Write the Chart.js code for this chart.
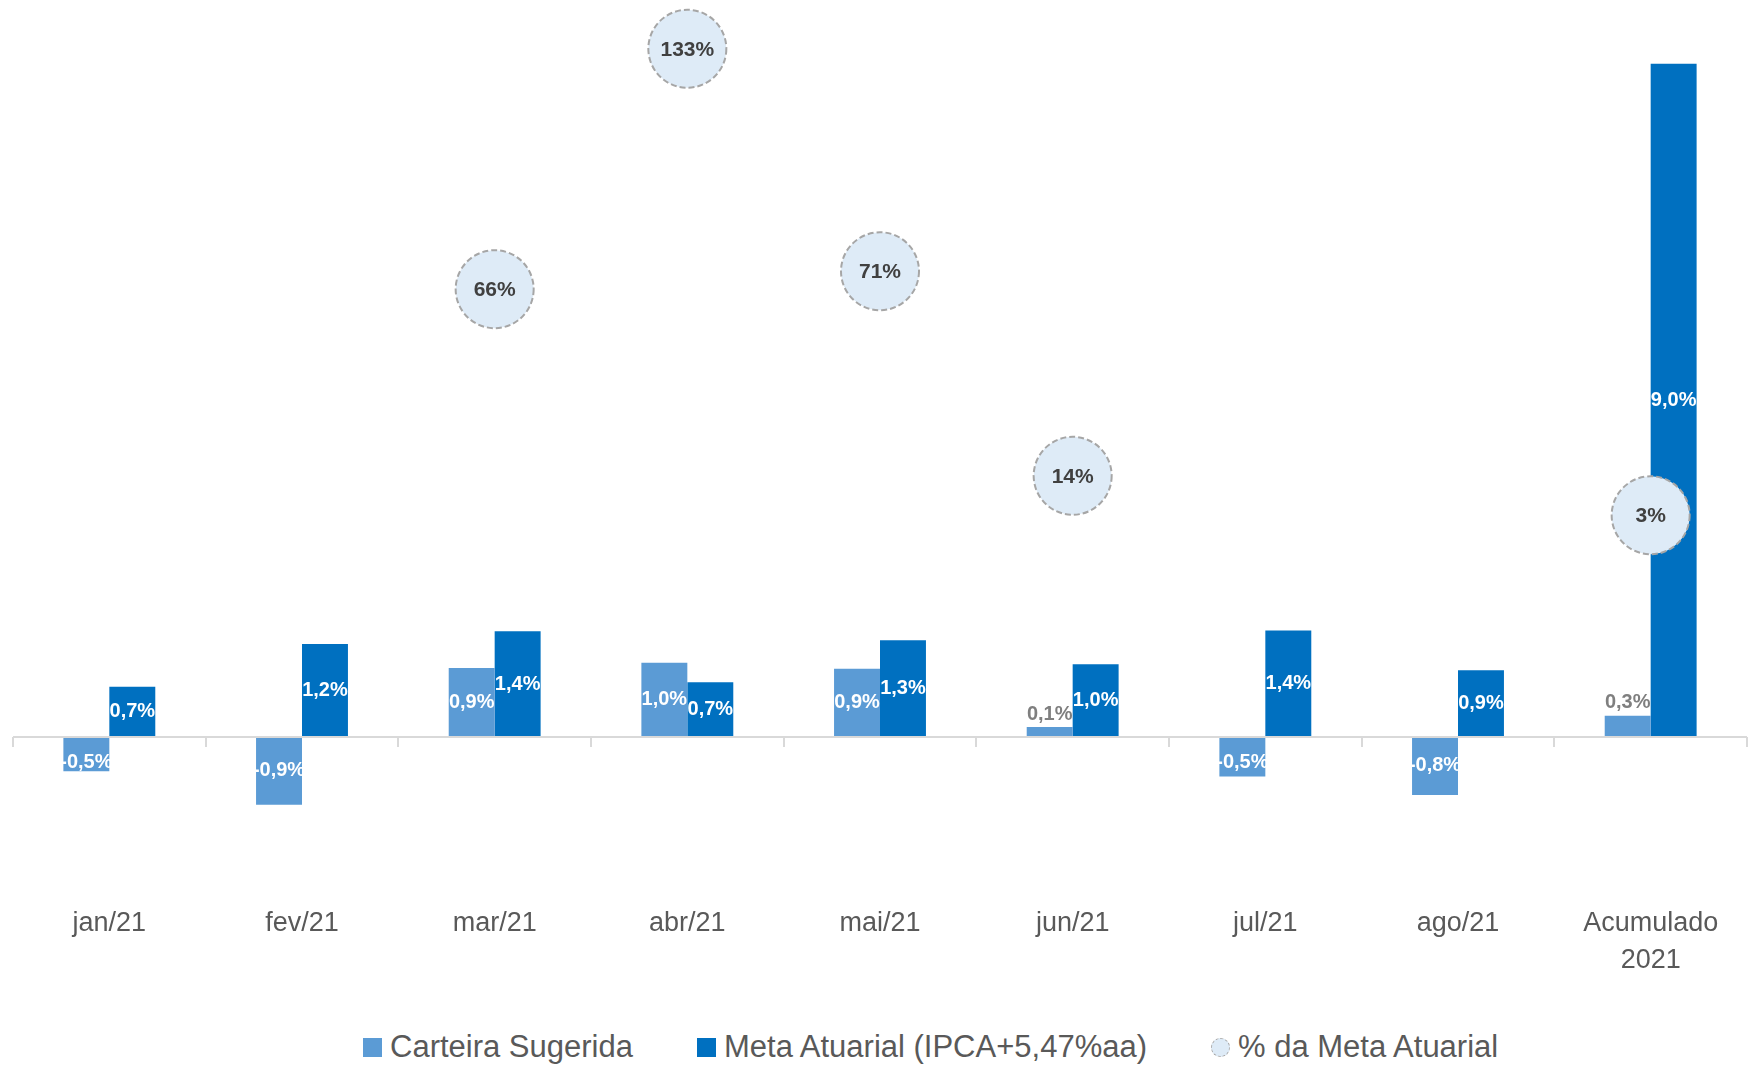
<!DOCTYPE html>
<html lang="pt-BR">
<head>
<meta charset="utf-8">
<title>Carteira Sugerida x Meta Atuarial</title>
<script src="https://cdn.jsdelivr.net/npm/chart.js@4.4.1/dist/chart.umd.min.js"></script>
<style>
  body { margin: 0; background: #fff; font-family: 'Liberation Sans', Arial, sans-serif; }
  #wrap { position: relative; width: 1752px; height: 1065px; }
  #chartBox { position: absolute; left: 0; top: 0; width: 1752px; height: 1002px; }
  #legenda { position: absolute; left: 363px; top: 1029px; display: flex; align-items: center;
             font-size: 31px; line-height: 36px; color: #595959; }
  .item { display: flex; align-items: center; margin-right: 64px; }
  .marca { width: 19px; height: 19px; margin-right: 8px; box-sizing: border-box; }
</style>
</head>
<body>
<div id="wrap">
  <div id="chartBox"><canvas id="graficoMeta"></canvas></div>
  <div id="legenda">
    <div class="item"><span class="marca" style="background:#5B9BD5"></span>Carteira Sugerida</div>
    <div class="item"><span class="marca" style="background:#0070C0"></span>Meta Atuarial (IPCA+5,47%aa)</div>
    <div class="item"><span class="marca" style="background:#DEEBF7;border:1.5px dashed #A6A6A6;border-radius:50%"></span>% da Meta Atuarial</div>
  </div>
</div>

<script>
// dados (% ao mês)
const categorias = ['jan/21', 'fev/21', 'mar/21', 'abr/21', 'mai/21', 'jun/21', 'jul/21', 'ago/21', ['Acumulado', '2021']];
const carteiraSugerida = [-0.46, -0.91, 0.92, 0.99, 0.91, 0.13, -0.53, -0.78, 0.28];
const metaAtuarial = [0.67, 1.24, 1.41, 0.73, 1.29, 0.97, 1.42, 0.89, 9.0];
const pctDaMeta = [null, null, 66, 133, 71, 14, null, null, 3];

Chart.defaults.font.family = "'Liberation Sans', Arial, sans-serif";

function formata(v) {
    return v.toFixed(1).replace('.', ',') + '%';
}

// linha do zero com as marcas entre as categorias
const eixoZero = {
    id: 'eixoZero',
    afterDatasetsDraw(chart) {
        const ctx = chart.ctx;
        const x = chart.scales.x;
        const y0 = Math.round(chart.scales.y.getPixelForValue(0));
        const n = chart.data.labels.length;
        const passo = (x.right - x.left) / n;
        ctx.save();
        ctx.strokeStyle = '#D9D9D9';
        ctx.lineWidth = 2;
        ctx.beginPath();
        ctx.moveTo(x.left, y0);
        ctx.lineTo(x.right, y0);
        for (let i = 0; i <= n; i++) {
            const xi = Math.round(x.left + i * passo);
            ctx.moveTo(xi, y0);
            ctx.lineTo(xi, y0 + 10);
        }
        ctx.stroke();
        ctx.restore();
    }
};

// bordas tracejadas nas bolhas
const bolhaTracejada = {
    id: 'bolhaTracejada',
    beforeDatasetDraw(chart, args) {
        if (args.index === 2) {
            chart.ctx.save();
            chart.ctx.setLineDash([6, 3]);
        }
    },
    afterDatasetDraw(chart, args) {
        if (args.index === 2) chart.ctx.restore();
    }
};

// rótulos das barras e das bolhas
const rotulos = {
    id: 'rotulos',
    afterDatasetsDraw(chart) {
        const ctx = chart.ctx;
        const zeroY = chart.scales.y.getPixelForValue(0);
        ctx.save();
        ctx.textAlign = 'center';
        ctx.textBaseline = 'middle';
        ctx.font = "bold 20px 'Liberation Sans', Arial, sans-serif";
        [0, 1].forEach(i => {
            const valores = chart.data.datasets[i].data;
            chart.getDatasetMeta(i).data.forEach((barra, j) => {
                const v = valores[j];
                const altura = Math.abs(barra.base - barra.y);
                let y;
                if (v > 0 && altura < 24) {
                    ctx.fillStyle = '#7F7F7F';
                    y = barra.y - 13;
                } else {
                    ctx.fillStyle = '#FFFFFF';
                    y = (barra.y + barra.base) / 2;
                    if (v < 0) y = Math.max(y, zeroY + 26);
                }
                ctx.fillText(formata(v), barra.x, y);
            });
        });
        ctx.font = "bold 21px 'Liberation Sans', Arial, sans-serif";
        ctx.fillStyle = '#404040';
        chart.getDatasetMeta(2).data.forEach((pt, j) => {
            const v = pctDaMeta[j];
            if (v === null) return;
            ctx.fillText(v + '%', pt.x, pt.y + 1);
        });
        ctx.restore();
    }
};

const ctx = document.getElementById('graficoMeta').getContext('2d');
new Chart(ctx, {
    data: {
        labels: categorias,
        datasets: [{
            type: 'bar',
            label: 'Carteira Sugerida',
            data: carteiraSugerida,
            backgroundColor: '#5B9BD5',
            categoryPercentage: 0.477,
            barPercentage: 1.0,
            yAxisID: 'y',
            order: 1
        }, {
            type: 'bar',
            label: 'Meta Atuarial (IPCA+5,47%aa)',
            data: metaAtuarial,
            backgroundColor: '#0070C0',
            categoryPercentage: 0.477,
            barPercentage: 1.0,
            yAxisID: 'y',
            order: 1
        }, {
            type: 'line',
            label: '% da Meta Atuarial',
            data: pctDaMeta,
            yAxisID: 'y2',
            showLine: false,
            pointRadius: 39,
            pointHoverRadius: 39,
            pointBackgroundColor: '#DEEBF7',
            pointBorderColor: '#A6A6A6',
            pointBorderWidth: 2,
            clip: false,
            order: 0
        }]
    },
    options: {
        responsive: true,
        maintainAspectRatio: false,
        animation: false,
        layout: {
            autoPadding: false,
            padding: { left: 13, right: 5, top: 10, bottom: 3 }
        },
        plugins: {
            legend: { display: false },
            tooltip: { enabled: false }
        },
        scales: {
            x: {
                grid: { display: false, drawTicks: false },
                border: { display: false },
                ticks: {
                    color: '#595959',
                    font: { size: 27, lineHeight: 1.36 },
                    padding: 20,
                    maxRotation: 0,
                    autoSkip: false
                }
            },
            y: {
                display: false,
                min: -1.99,
                max: 9.72
            },
            y2: {
                display: false,
                position: 'right',
                min: -100.2,
                max: 143.8
            }
        }
    },
    plugins: [eixoZero, bolhaTracejada, rotulos]
});
</script>
</body>
</html>
